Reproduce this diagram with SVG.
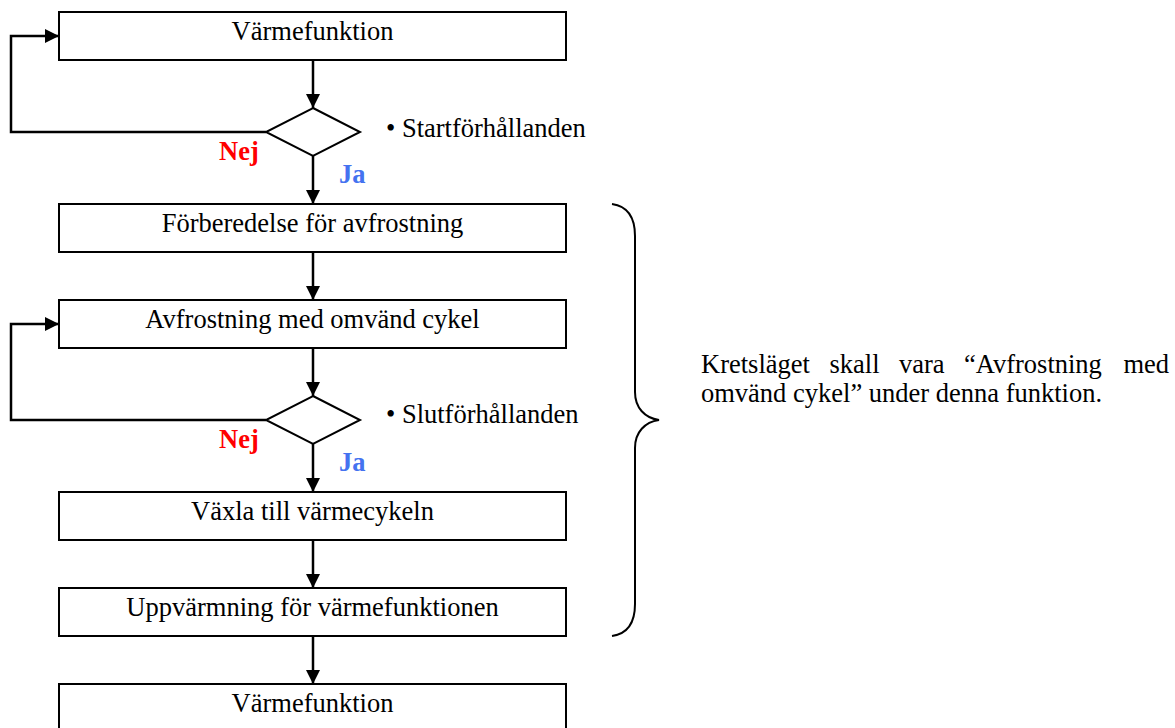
<svg xmlns="http://www.w3.org/2000/svg" width="1175" height="728" viewBox="0 0 1175 728">
<style>
.box{fill:#fff;stroke:#000;stroke-width:2}
.dia{fill:#fff;stroke:#000;stroke-width:2}
.t{font-family:"Liberation Serif","Times New Roman",serif;font-size:26.5px;fill:#000}
.c{text-anchor:middle}
.nej{font-family:"Liberation Serif","Times New Roman",serif;font-size:26.5px;font-weight:bold;fill:#ff0000}
.ja{font-family:"Liberation Serif","Times New Roman",serif;font-size:26.5px;font-weight:bold;fill:#4472f0}
.ln{fill:none;stroke:#000;stroke-width:2.5}
.br{fill:none;stroke:#000;stroke-width:2}
</style>
<defs>
<marker id="ah" viewBox="0 0 10 10" refX="10" refY="5" markerWidth="15" markerHeight="14" markerUnits="userSpaceOnUse" orient="auto">
<path d="M0,0 L10,5 L0,10 z" fill="#000"/>
</marker>
</defs>
<rect width="1175" height="728" fill="#fff"/>
<g id="connectors">
<line class="ln" x1="313" y1="60" x2="313" y2="108" marker-end="url(#ah)"/>
<polyline class="ln" points="266,132 11,132 11,36 59,36" marker-end="url(#ah)"/>
<line class="ln" x1="313" y1="156" x2="313" y2="204" marker-end="url(#ah)"/>
<line class="ln" x1="313" y1="252" x2="313" y2="300" marker-end="url(#ah)"/>
<line class="ln" x1="313" y1="348" x2="313" y2="396" marker-end="url(#ah)"/>
<polyline class="ln" points="266,420 11,420 11,324 59,324" marker-end="url(#ah)"/>
<line class="ln" x1="313" y1="444" x2="313" y2="492" marker-end="url(#ah)"/>
<line class="ln" x1="313" y1="540" x2="313" y2="588" marker-end="url(#ah)"/>
<line class="ln" x1="313" y1="636" x2="313" y2="684" marker-end="url(#ah)"/>
</g>
<g id="n1"><rect class="box" x="59" y="12" width="507" height="48"/><text class="t c" x="312.5" y="40">Värmefunktion</text></g>
<g id="d1"><polygon class="dia" points="313,108 360,132 313,156 266,132"/>
<text class="t" x="386" y="137">• Startförhållanden</text>
<text class="nej" x="219" y="160">Nej</text>
<text class="ja" x="339" y="183">Ja</text></g>
<g id="n2"><rect class="box" x="59" y="204" width="507" height="48"/><text class="t c" x="312.5" y="232">Förberedelse för avfrostning</text></g>
<g id="n3"><rect class="box" x="59" y="300" width="507" height="48"/><text class="t c" x="312.5" y="328">Avfrostning med omvänd cykel</text></g>
<g id="d2"><polygon class="dia" points="313,396 360,420 313,444 266,420"/>
<text class="t" x="386" y="423">• Slutförhållanden</text>
<text class="nej" x="219" y="448">Nej</text>
<text class="ja" x="339" y="471">Ja</text></g>
<g id="n4"><rect class="box" x="59" y="492" width="507" height="48"/><text class="t c" x="312.5" y="520">Växla till värmecykeln</text></g>
<g id="n5"><rect class="box" x="59" y="588" width="507" height="48"/><text class="t c" x="312.5" y="616">Uppvärmning för värmefunktionen</text></g>
<g id="n6"><rect class="box" x="59" y="684" width="507" height="48"/><text class="t c" x="312.5" y="712">Värmefunktion</text></g>
<g id="brace">
<path class="br" d="M612,204 C626,206 635,216 635,236 L635,392 C635,408 645,418 659,420 C645,422 635,432 635,448 L635,604 C635,624 626,634 612,636"/>
</g>
<g id="note">
<text class="t" y="373"><tspan x="701">Kretsläget</tspan><tspan x="829.5">skall</tspan><tspan x="899">vara</tspan><tspan x="964">“Avfrostning</tspan><tspan x="1123.5">med</tspan></text>
<text class="t" x="701" y="402">omvänd cykel” under denna funktion.</text>
</g>
</svg>
